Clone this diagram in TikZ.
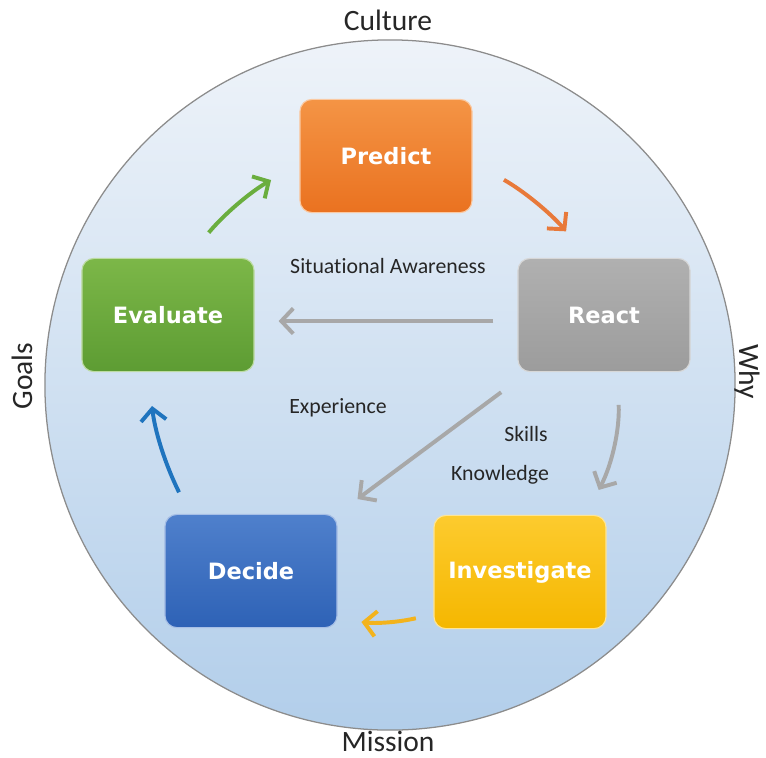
\documentclass[tikz,border=0pt]{standalone}
\usepackage{fontspec}
\setmainfont[Ligatures=NoCommon]{Carlito}
\newfontfamily\boxfont{DejaVu Sans}
\usetikzlibrary{arrows,arrows.meta,calc,positioning}
%
\definecolor{labelgray}{HTML}{262626}
\definecolor{ringtop}{HTML}{EEF3F9}
\definecolor{ringbot}{HTML}{B2CEEA}
\definecolor{predicttop}{HTML}{F49445}
\definecolor{predictbot}{HTML}{EA7220}
\definecolor{reacttop}{HTML}{B0B0B0}
\definecolor{reactbot}{HTML}{9C9C9C}
\definecolor{investtop}{HTML}{FDCB2E}
\definecolor{investbot}{HTML}{F5B700}
\definecolor{decidetop}{HTML}{4F80CC}
\definecolor{decidebot}{HTML}{2E62B6}
\definecolor{evaltop}{HTML}{7CB748}
\definecolor{evalbot}{HTML}{5D9C33}
\definecolor{orangearr}{HTML}{E8793A}
\definecolor{greenarr}{HTML}{6AAE3E}
\definecolor{grayarr}{HTML}{A8A8A8}
\definecolor{yellowarr}{HTML}{F3B31C}
\definecolor{bluearr}{HTML}{1F74BE}

\begin{document}
\begin{tikzpicture}[x=0.025cm,y=-0.025cm,
    stepbox/.style={rounded corners=0.3cm,minimum width=4.3cm,
      minimum height=2.83cm,text=white,line width=0.8pt,
      font=\boxfont\bfseries\fontsize{16}{19}\selectfont},
    flow/.style={-{Straight Barb[length=8.5pt,width=18pt]},line width=2.8pt},
    tag/.style={text=labelgray,font=\fontsize{15.5}{18}\selectfont},
    side/.style={text=labelgray,font=\fontsize{21}{24}\selectfont}]
%
  \useasboundingbox (0,0) rectangle (766,757) ;
%
  \node (ring) [circle,draw=gray!90,line width=0.9pt,minimum size=17.25cm,
        top color=ringtop,bottom color=ringbot] at (390,385) {} ;
%
  \node (culture) [side] at (388,20) {Culture} ;
  \node (mission) [side] at (388,741) {Mission} ;
  \node (goals) [side,rotate=90] at (22,376) {Goals} ;
  \node (why) [side,rotate=-90] at (747,372) {Why} ;
%
  \node (predict) [stepbox,draw=predicttop!50!white,top color=predicttop,
        bottom color=predictbot] at (386,156) {Predict} ;
  \node (react) [stepbox,draw=reacttop!50!white,top color=reacttop,
        bottom color=reactbot] at (604,315) {React} ;
  \node (investigate) [stepbox,draw=investtop!50!white,top color=investtop,
        bottom color=investbot] at (520,572) {Investigate} ;
  \node (decide) [stepbox,draw=decidetop!50!white,top color=decidetop,
        bottom color=decidebot] at (251,571) {Decide} ;
  \node (evaluate) [stepbox,draw=evaltop!50!white,top color=evaltop,
        bottom color=evalbot] at (168,315) {Evaluate} ;
%
  \node (aware) [tag] at (388,266) {Situational Awareness} ;
  \node (exper) [tag] at (338,408) {Experience} ;
  \node (skills) [tag] at (526,434) {Skills} ;
  \node (knowl) [tag] at (500,475) {Knowledge} ;
%
  \draw [flow,orangearr,shorten <=0.9cm,shorten >=0.87cm]
        (predict.-4) to [bend left=10] (react.105) ;
  \draw [flow,grayarr,shorten <=0.6cm,shorten >=0.6cm]
        (react.184) -- (evaluate.-4) ;
  \draw [flow,grayarr,shorten <=0.84cm,shorten >=0.62cm]
        (react.217) -- (decide.north east) ;
  \draw [flow,grayarr,shorten <=0.82cm,shorten >=0.7cm]
        (react.-77) to [bend left=15] (investigate.41) ;
  \draw [flow,yellowarr,shorten <=0.45cm,shorten >=0.6cm]
        (investigate.206) to [bend left=10] (decide.-29) ;
  \draw [flow,bluearr,shorten <=0.6cm,shorten >=0.85cm]
        (decide.137) to [bend left=10] (evaluate.251) ;
  \draw [flow,greenarr,shorten <=0.82cm,shorten >=0.82cm]
        (evaluate.71) to [bend left=10] (predict.185) ;
%
\end{tikzpicture}
\end{document}
